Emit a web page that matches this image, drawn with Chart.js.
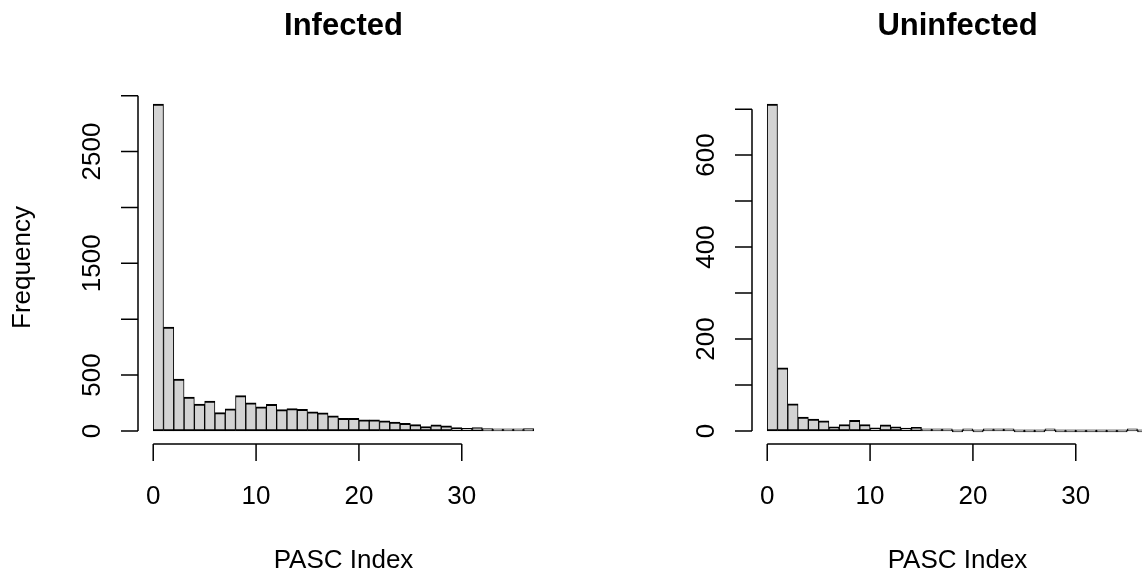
<!DOCTYPE html>
<html>
<head>
<meta charset="utf-8">
<script src="https://cdn.jsdelivr.net/npm/chart.js@4.4.1/dist/chart.umd.min.js"></script>
<style>
  html, body { margin: 0; padding: 0; background: #fff; overflow: hidden; }
  #wrap { width: 1228px; height: 578px; display: flex; }
  canvas { display: block; }
</style>
</head>
<body>
<div id="wrap">
  <canvas id="infected" width="614" height="578"></canvas>
  <canvas id="uninfected" width="614" height="578"></canvas>
</div>
<script>
// histogram bins: left edge of each unit-wide bin of the PASC Index
var binStarts = [0, 1, 2, 3, 4, 5, 6, 7, 8, 9, 10, 11, 12, 13, 14, 15, 16, 17, 18,
                 19, 20, 21, 22, 23, 24, 25, 26, 27, 28, 29, 30, 31, 32, 33, 34, 35, 36];

var infectedCounts = [2925, 930, 465, 303, 241, 266, 164, 197, 316, 251, 215, 238, 190, 200, 193, 172,
                      163, 136, 113, 113, 100, 99, 91, 79, 69, 57, 38, 54, 45, 29, 23, 31, 20, 14, 9, 6, 20];

var uninfectedCounts = [711, 137, 59, 30, 26, 22, 9, 14, 23, 14, 7, 13, 9, 6, 8, 3, 4, 2,
                        0, 3, 0, 1, 1, 1, 0, 0, 0, 2, 0, 0, 0, 0, 0, 0, 0, 1, 0];

var xTicks = [0, 10, 20, 30];
var infectedYTicks = [0, 500, 1000, 1500, 2000, 2500, 3000];
var infectedYLabels = ['0', '500', '1500', '2500'];
var uninfectedYTicks = [0, 100, 200, 300, 400, 500, 600, 700];
var uninfectedYLabels = ['0', '200', '400', '600'];

var FONT = '"Liberation Sans", Arial, Helvetica, sans-serif';

// base-R style axes, titles and labels, placed with the chart's own scales
var rAxes = {
  id: 'rAxes',
  afterDraw: function (chart, args, opts) {
    var ctx = chart.ctx;
    var xs = chart.scales.x, ys = chart.scales.y, area = chart.chartArea;
    var tick = 17;
    ctx.save();
    ctx.strokeStyle = '#000';
    ctx.fillStyle = '#000';
    ctx.lineWidth = 1.5;

    ctx.beginPath();
    var xa = xs.getPixelForValue(opts.xTicks[0]);
    var xb = xs.getPixelForValue(opts.xTicks[opts.xTicks.length - 1]);
    ctx.moveTo(xa, area.bottom);
    ctx.lineTo(xb, area.bottom);
    opts.xTicks.forEach(function (v) {
      var px = xs.getPixelForValue(v);
      ctx.moveTo(px, area.bottom);
      ctx.lineTo(px, area.bottom + tick);
    });
    var ya = ys.getPixelForValue(opts.yTicks[0]);
    var yb = ys.getPixelForValue(opts.yTicks[opts.yTicks.length - 1]);
    ctx.moveTo(area.left, ya);
    ctx.lineTo(area.left, yb);
    opts.yTicks.forEach(function (v) {
      var py = ys.getPixelForValue(v);
      ctx.moveTo(area.left, py);
      ctx.lineTo(area.left - tick, py);
    });
    ctx.stroke();

    ctx.font = '26px ' + FONT;
    ctx.textAlign = 'center';
    ctx.textBaseline = 'alphabetic';
    opts.xTicks.forEach(function (v) {
      ctx.fillText(String(v), xs.getPixelForValue(v), area.bottom + 60);
    });
    opts.yTicks.forEach(function (v) {
      if (opts.yLabels.indexOf(String(v)) < 0) return;
      ctx.save();
      ctx.translate(area.left - 38, ys.getPixelForValue(v));
      ctx.rotate(-Math.PI / 2);
      ctx.fillText(String(v), 0, 0);
      ctx.restore();
    });

    var cx = (area.left + area.right) / 2;
    ctx.fillText(opts.xTitle, cx, area.bottom + 124);
    if (opts.yTitle) {
      ctx.save();
      ctx.translate(area.left - 108, (area.top + area.bottom) / 2);
      ctx.rotate(-Math.PI / 2);
      ctx.fillText(opts.yTitle, 0, 0);
      ctx.restore();
    }

    ctx.font = 'bold 31px ' + FONT;
    ctx.fillText(opts.title, cx, 35);
    ctx.restore();
  }
};

function makeHist(id, counts, title, yTicks, yLabels, yTitle) {
  var points = binStarts.map(function (b, i) { return { x: b + 0.5, y: counts[i] }; });
  var xmin = binStarts[0], xmax = binStarts[binStarts.length - 1] + 1;
  var ymax = Math.max.apply(null, counts);
  var ctx = document.getElementById(id).getContext('2d');
  return new Chart(ctx, {
    type: 'bar',
    data: {
      datasets: [{
        data: points,
        backgroundColor: '#d3d3d3',
        borderColor: '#000',
        borderWidth: { top: 2, left: 1, right: 1, bottom: 2 },
        borderSkipped: false,
        minBarLength: 2,
        barPercentage: 1,
        categoryPercentage: 1
      }]
    },
    options: {
      responsive: false,
      animation: false,
      layout: { padding: { left: 138, right: 65, top: 91, bottom: 134 } },
      scales: {
        x: {
          type: 'linear',
          offset: false,
          min: xmin - 0.04 * (xmax - xmin),
          max: xmax + 0.04 * (xmax - xmin),
          display: false,
          grid: { offset: false }
        },
        y: {
          min: -0.04 * ymax,
          max: 1.04 * ymax,
          display: false
        }
      },
      plugins: {
        legend: { display: false },
        tooltip: { enabled: false },
        rAxes: {
          title: title,
          xTitle: 'PASC Index',
          yTitle: yTitle,
          xTicks: xTicks,
          yTicks: yTicks,
          yLabels: yLabels
        }
      }
    },
    plugins: [rAxes]
  });
}

makeHist('infected', infectedCounts, 'Infected', infectedYTicks, infectedYLabels, 'Frequency');
makeHist('uninfected', uninfectedCounts, 'Uninfected', uninfectedYTicks, uninfectedYLabels, '');
</script>
</body>
</html>
